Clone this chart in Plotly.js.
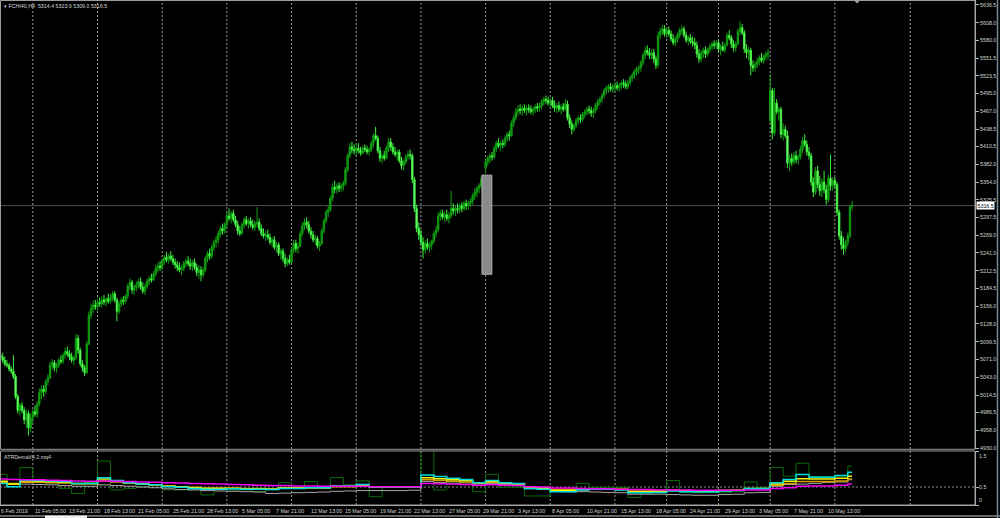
<!DOCTYPE html>
<html><head><meta charset="utf-8">
<script src="https://cdn.plot.ly/plotly-3.0.1.min.js"></script>
<style>html,body{margin:0;padding:0;background:#000;overflow:hidden}#chart{width:1000px;height:518px}</style>
</head><body><div id="chart"></div>
<script>
const symbolName = 'FCHI40,H4';
const indicatorName = 'ATRDemaV4.2.mq4';
const tradingDays = [
 '2019-02-06','2019-02-07','2019-02-08',
 '2019-02-11','2019-02-12','2019-02-13','2019-02-14','2019-02-15',
 '2019-02-18','2019-02-19','2019-02-20','2019-02-21','2019-02-22',
 '2019-02-25','2019-02-26','2019-02-27','2019-02-28','2019-03-01',
 '2019-03-04','2019-03-05','2019-03-06','2019-03-07','2019-03-08',
 '2019-03-11','2019-03-12','2019-03-13','2019-03-14','2019-03-15',
 '2019-03-18','2019-03-19','2019-03-20','2019-03-21','2019-03-22',
 '2019-03-25','2019-03-26','2019-03-27','2019-03-28','2019-03-29',
 '2019-04-01','2019-04-02','2019-04-03','2019-04-04','2019-04-05',
 '2019-04-08','2019-04-09','2019-04-10','2019-04-11','2019-04-12',
 '2019-04-15','2019-04-16','2019-04-17','2019-04-18',
 '2019-04-23','2019-04-24','2019-04-25','2019-04-26',
 '2019-04-29','2019-04-30','2019-05-02','2019-05-03',
 '2019-05-06','2019-05-07','2019-05-08','2019-05-09','2019-05-10',
 '2019-05-13','2019-05-14'];
const sessionHours = [1,5,9,13,17,21];
const firstBarHour = 13;

const open = [5078,5075,5070,
 5064,5062,5056,5052,5044,5012,
 4990,4998,4990,4975,4985,4962,
 4978,4988,4984,5000,5018,5024,
 5020,5036,5042,5062,5066,5058,
 5062,5070,5068,5078,5084,5080,
 5075,5070,5074,5105,5086,5064,
 5058,5050,5096,5142,5152,5158,
 5155,5162,5160,5166,5163,5168,
 5164,5170,5176,5166,5148,5160,
 5166,5164,5172,5188,5194,5182,
 5186,5190,5195,5186,5180,5188,
 5196,5200,5198,5208,5216,5220,
 5218,5228,5234,5230,5236,5232,
 5226,5222,5218,5214,5216,5224,
 5228,5224,5220,5226,5218,5210,
 5214,5206,5214,5232,5240,5236,
 5250,5258,5262,5272,5280,5276,
 5286,5300,5296,5304,5294,5286,
 5276,5272,5286,5294,5288,5292,
 5286,5282,5288,5290,5280,5272,
 5268,5270,5266,5258,5262,5250,
 5254,5240,5244,5232,5224,5230,
 5226,5246,5256,5248,5252,5272,
 5284,5290,5286,5276,5270,5262,
 5264,5252,5256,5276,5292,5306,
 5310,5328,5346,5342,5348,5344,
 5348,5352,5374,5396,5410,5406,
 5404,5408,5404,5400,5408,5406,
 5402,5406,5416,5428,5424,5404,
 5392,5396,5392,5408,5418,5410,
 5402,5398,5402,5388,5380,5386,
 5394,5398,5396,5358,5312,5280,
 5270,5258,5246,5256,5250,5254,
 5260,5272,5278,5300,5304,5298,
 5302,5296,5300,5312,5308,5312,
 5310,5316,5312,5320,5316,5320,
 5324,5332,5338,5344,5348,5358,
 5376,5386,5392,5396,5394,5408,
 5416,5412,5416,5414,5424,5430,
 5428,5448,5456,5466,5470,5468,
 5472,5468,5472,5470,5466,5470,
 5474,5472,5476,5482,5486,5484,
 5480,5484,5476,5472,5476,5470,
 5474,5470,5478,5456,5446,5438,
 5444,5452,5456,5454,5462,5466,
 5470,5468,5464,5468,5476,5482,
 5486,5492,5500,5504,5506,5502,
 5506,5508,5504,5508,5512,5510,
 5506,5512,5520,5524,5530,5534,
 5536,5544,5556,5564,5560,5556,
 5560,5550,5540,5588,5594,5598,
 5590,5596,5590,5582,5576,5582,
 5588,5596,5598,5588,5580,5584,
 5578,5576,5572,5558,5550,5560,
 5564,5558,5566,5570,5574,5572,
 5576,5566,5570,5564,5572,5588,
 5584,5574,5568,5574,5594,5600,
 5592,5566,5560,5564,5540,5536,
 5542,5546,5552,5548,5554,5558,
 5452,5500,5432,5480,5466,5470,
 5430,5438,5428,5384,5392,5386,
 5396,5390,5394,5406,5420,5414,
 5402,5396,5354,5338,5372,5350,
 5340,5354,5342,5326,5360,5348,
 5356,5350,5306,5268,5254,5248,
 5258,5268,5314.4];

const high = [5085,5082,5076,
 5070,5066,5060,5078,5048,5016,
 5002,5003,4995,4992,4990,4985,
 4992,4998,5005,5025,5030,5030,
 5040,5048,5068,5072,5070,5066,
 5074,5078,5082,5090,5092,5086,
 5082,5078,5112,5110,5090,5070,
 5062,5100,5148,5160,5165,5166,
 5168,5170,5172,5174,5170,5176,
 5175,5180,5180,5170,5165,5170,
 5172,5175,5192,5200,5198,5190,
 5196,5200,5202,5194,5192,5200,
 5204,5208,5212,5222,5226,5228,
 5232,5238,5242,5240,5244,5238,
 5232,5228,5226,5222,5228,5232,
 5236,5232,5230,5232,5224,5222,
 5220,5218,5236,5244,5248,5254,
 5262,5268,5276,5284,5288,5290,
 5306,5312,5308,5310,5300,5292,
 5284,5290,5298,5300,5296,5298,
 5294,5292,5314,5296,5286,5280,
 5276,5278,5272,5266,5268,5258,
 5258,5248,5248,5240,5234,5238,
 5250,5262,5262,5258,5276,5290,
 5296,5298,5292,5282,5276,5270,
 5268,5260,5280,5296,5310,5316,
 5332,5352,5356,5352,5354,5352,
 5356,5378,5400,5416,5418,5414,
 5414,5416,5410,5412,5414,5412,
 5410,5420,5432,5442,5428,5410,
 5400,5404,5412,5424,5424,5416,
 5410,5406,5406,5394,5390,5398,
 5404,5406,5400,5362,5318,5290,
 5278,5266,5262,5264,5258,5262,
 5276,5284,5306,5310,5310,5306,
 5310,5306,5340,5320,5316,5320,
 5320,5322,5324,5326,5324,5328,
 5336,5344,5348,5352,5364,5366,
 5392,5396,5400,5402,5412,5420,
 5424,5420,5422,5428,5434,5436,
 5452,5460,5472,5476,5478,5476,
 5478,5476,5478,5476,5474,5478,
 5480,5480,5486,5490,5492,5490,
 5488,5490,5484,5480,5482,5478,
 5480,5486,5484,5462,5452,5448,
 5456,5460,5462,5466,5470,5474,
 5476,5474,5472,5480,5486,5490,
 5496,5504,5508,5510,5512,5510,
 5514,5514,5512,5516,5518,5516,
 5516,5524,5528,5534,5538,5540,
 5548,5560,5570,5572,5568,5566,
 5566,5556,5594,5600,5604,5604,
 5600,5602,5596,5590,5586,5592,
 5600,5604,5602,5594,5588,5590,
 5586,5584,5578,5566,5564,5568,
 5570,5568,5574,5578,5580,5580,
 5582,5574,5578,5576,5592,5596,
 5588,5580,5578,5598,5610,5606,
 5596,5574,5570,5568,5548,5546,
 5552,5556,5560,5558,5562,5566,
 5526,5504,5504,5486,5474,5474,
 5448,5444,5436,5398,5400,5402,
 5404,5398,5412,5426,5430,5420,
 5410,5400,5362,5378,5380,5364,
 5360,5372,5350,5366,5398,5362,
 5362,5354,5310,5276,5266,5262,
 5274,5318,5323.9];

const low = [5068,5066,5060,
 5058,5052,5048,5040,5008,4985,
 4982,4985,4968,4962,4950,4955,
 4970,4980,4978,4996,5008,5012,
 5016,5030,5040,5055,5052,5050,
 5058,5064,5064,5072,5076,5070,
 5066,5062,5070,5080,5060,5052,
 5045,5048,5094,5136,5146,5150,
 5150,5155,5154,5158,5156,5160,
 5160,5164,5162,5132,5144,5155,
 5158,5160,5168,5182,5176,5174,
 5180,5184,5182,5176,5174,5184,
 5190,5194,5196,5204,5210,5212,
 5214,5222,5226,5224,5228,5222,
 5216,5212,5210,5206,5212,5218,
 5220,5214,5212,5214,5204,5200,
 5196,5202,5210,5226,5230,5232,
 5244,5250,5256,5266,5270,5272,
 5282,5292,5288,5290,5282,5270,
 5268,5270,5280,5284,5280,5282,
 5278,5276,5282,5276,5268,5264,
 5260,5262,5254,5250,5246,5242,
 5236,5230,5226,5218,5220,5222,
 5224,5240,5242,5240,5250,5268,
 5278,5280,5272,5264,5258,5254,
 5248,5244,5254,5272,5288,5298,
 5306,5324,5336,5336,5338,5338,
 5340,5348,5370,5392,5400,5398,
 5396,5400,5396,5398,5402,5398,
 5396,5402,5410,5420,5400,5386,
 5384,5388,5390,5402,5404,5398,
 5394,5388,5384,5374,5372,5382,
 5388,5390,5352,5306,5274,5262,
 5252,5232,5240,5246,5242,5246,
 5256,5266,5274,5292,5294,5290,
 5292,5288,5296,5302,5300,5304,
 5304,5306,5308,5310,5310,5314,
 5318,5326,5330,5336,5344,5350,
 5368,5380,5384,5388,5390,5402,
 5408,5404,5408,5410,5418,5420,
 5426,5442,5452,5460,5462,5460,
 5464,5460,5464,5462,5460,5464,
 5466,5466,5470,5476,5478,5476,
 5474,5472,5466,5464,5466,5462,
 5466,5468,5452,5440,5430,5434,
 5440,5446,5448,5450,5456,5460,
 5462,5458,5456,5464,5470,5476,
 5480,5488,5494,5496,5498,5496,
 5498,5500,5498,5502,5504,5502,
 5502,5508,5514,5518,5524,5526,
 5530,5540,5550,5556,5550,5550,
 5544,5534,5536,5582,5588,5586,
 5584,5586,5578,5572,5570,5576,
 5584,5590,5584,5576,5572,5574,
 5570,5566,5552,5544,5546,5552,
 5552,5554,5560,5564,5566,5566,
 5560,5556,5562,5560,5570,5580,
 5568,5562,5562,5572,5588,5588,
 5560,5552,5548,5524,5530,5530,
 5536,5540,5544,5542,5548,5550,
 5448,5422,5428,5462,5452,5424,
 5420,5424,5376,5372,5380,5382,
 5384,5382,5390,5400,5410,5396,
 5390,5348,5330,5334,5344,5332,
 5330,5336,5318,5322,5340,5340,
 5344,5300,5262,5246,5238,5242,
 5252,5264,5309.0];

const close = [5075,5070,5064,
 5062,5056,5052,5044,5012,4990,
 4998,4990,4975,4985,4962,4978,
 4988,4984,5000,5018,5024,5020,
 5036,5042,5062,5066,5058,5062,
 5070,5068,5078,5084,5080,5075,
 5070,5074,5105,5086,5064,5058,
 5050,5096,5142,5152,5158,5155,
 5162,5160,5166,5163,5168,5164,
 5170,5176,5166,5148,5160,5166,
 5164,5172,5188,5194,5182,5186,
 5190,5195,5186,5180,5188,5196,
 5200,5198,5208,5216,5220,5218,
 5228,5234,5230,5236,5232,5226,
 5222,5218,5214,5216,5224,5228,
 5224,5220,5226,5218,5210,5214,
 5206,5214,5232,5240,5236,5250,
 5258,5262,5272,5280,5276,5286,
 5300,5296,5304,5294,5286,5276,
 5272,5286,5294,5288,5292,5286,
 5282,5288,5290,5280,5272,5268,
 5270,5266,5258,5262,5250,5254,
 5240,5244,5232,5224,5230,5226,
 5246,5256,5248,5252,5272,5284,
 5290,5286,5276,5270,5262,5264,
 5252,5256,5276,5292,5306,5310,
 5328,5346,5342,5348,5344,5348,
 5352,5374,5396,5410,5406,5404,
 5408,5404,5400,5408,5406,5402,
 5406,5416,5428,5424,5404,5392,
 5396,5392,5408,5418,5410,5402,
 5398,5402,5388,5380,5386,5394,
 5398,5396,5358,5312,5280,5270,
 5258,5246,5256,5250,5254,5260,
 5272,5278,5300,5304,5298,5302,
 5296,5300,5312,5308,5312,5310,
 5316,5312,5320,5316,5320,5324,
 5332,5338,5344,5348,5358,5362,
 5386,5392,5396,5394,5408,5416,
 5412,5416,5414,5424,5430,5428,
 5448,5456,5466,5470,5468,5472,
 5468,5472,5470,5466,5470,5474,
 5472,5476,5482,5486,5484,5480,
 5484,5476,5472,5476,5470,5474,
 5470,5478,5456,5446,5438,5444,
 5452,5456,5454,5462,5466,5470,
 5468,5464,5468,5476,5482,5486,
 5492,5500,5504,5506,5502,5506,
 5508,5504,5508,5512,5510,5506,
 5512,5520,5524,5530,5534,5536,
 5544,5556,5564,5560,5556,5560,
 5550,5540,5588,5594,5598,5590,
 5596,5590,5582,5576,5582,5588,
 5596,5598,5588,5580,5584,5578,
 5576,5572,5558,5550,5560,5564,
 5558,5566,5570,5574,5572,5576,
 5566,5570,5564,5572,5588,5584,
 5574,5568,5574,5594,5600,5592,
 5566,5560,5564,5540,5536,5542,
 5546,5552,5548,5554,5558,5560,
 5500,5432,5480,5466,5470,5430,
 5438,5428,5384,5392,5386,5396,
 5390,5394,5406,5420,5414,5402,
 5396,5354,5338,5372,5350,5340,
 5354,5342,5326,5360,5348,5356,
 5350,5306,5268,5254,5248,5258,
 5268,5314.4,5316.5];

// ATR indicator values, one per trading day
const atrGreen = [0.85,0.51,1.04, 0.62,0.62,0.46,0.32,0.62, 1.22,0.42,0.46,0.51,0.56,
 0.42,0.42,0.42,0.28,0.44, 0.42,0.42,0.37,0.42,0.62, 0.46,0.65,0.51,0.76,0.56,
 0.67,0.23,0.51,0.51,0.51, 1.70,0.42,0.62,0.62,0.37, 0.85,0.49,0.49,0.25,0.25,
 0.42,0.42,0.60,0.49,0.49, 0.49,0.21,0.42,0.42, 0.68,0.35,0.34,0.35,
 0.34,0.37,0.64,0.48, 1.04,0.80,1.16,0.79,0.79, 0.80,1.08];
const atrCyan = [0.60,0.51,0.69, 0.68,0.67,0.65,0.60,0.60, 0.76,0.68,0.62,0.58,0.56,
 0.51,0.49,0.46,0.44,0.44, 0.45,0.44,0.44,0.43,0.46, 0.46,0.48,0.48,0.53,0.53,
 0.57,0.51,0.51,0.51,0.51, 0.83,0.79,0.74,0.71,0.62, 0.68,0.62,0.60,0.46,0.44,
 0.37,0.37,0.42,0.44,0.44, 0.42,0.34,0.34,0.35, 0.39,0.37,0.36,0.36,
 0.39,0.40,0.46,0.46, 0.62,0.71,0.85,0.77,0.77, 0.82,0.91];
const atrYellow = [0.66,0.58,0.67, 0.66,0.65,0.63,0.60,0.60, 0.72,0.66,0.62,0.58,0.56,
 0.52,0.50,0.48,0.46,0.46, 0.46,0.45,0.45,0.44,0.47, 0.47,0.48,0.48,0.52,0.52,
 0.55,0.51,0.51,0.51,0.51, 0.76,0.73,0.70,0.68,0.62, 0.66,0.61,0.59,0.48,0.46,
 0.40,0.40,0.43,0.44,0.44, 0.43,0.37,0.37,0.38, 0.40,0.39,0.38,0.38,
 0.40,0.41,0.46,0.46, 0.58,0.66,0.73,0.72,0.72, 0.74,0.80];
const atrOrange = [0.63,0.60,0.63, 0.63,0.62,0.61,0.59,0.59, 0.67,0.64,0.61,0.58,0.56,
 0.53,0.51,0.49,0.47,0.47, 0.47,0.46,0.46,0.45,0.47, 0.47,0.48,0.48,0.51,0.51,
 0.53,0.51,0.51,0.51,0.51, 0.70,0.68,0.66,0.64,0.60, 0.63,0.60,0.58,0.50,0.48,
 0.43,0.43,0.44,0.44,0.44, 0.44,0.39,0.39,0.40, 0.41,0.40,0.39,0.39,
 0.40,0.41,0.45,0.45, 0.55,0.60,0.65,0.65,0.65, 0.67,0.72];
const atrGray = [0.60,0.57,0.58, 0.57,0.56,0.54,0.52,0.52, 0.56,0.54,0.52,0.50,0.48,
 0.45,0.43,0.42,0.40,0.39, 0.38,0.37,0.36,0.32,0.33, 0.34,0.35,0.36,0.38,0.39,
 0.40,0.40,0.40,0.40,0.41, 0.65,0.62,0.60,0.58,0.55, 0.60,0.57,0.55,0.45,0.43,
 0.38,0.37,0.37,0.36,0.35, 0.34,0.30,0.30,0.30, 0.29,0.28,0.27,0.27,
 0.29,0.30,0.34,0.35, 0.52,0.57,0.58,0.60,0.63, 0.64,0.70];
const atrMagenta = [0.72,0.71,0.70, 0.70,0.69,0.68,0.67,0.66, 0.67,0.66,0.65,0.64,0.63,
 0.62,0.61,0.60,0.59,0.58, 0.57,0.56,0.55,0.54,0.54, 0.53,0.53,0.52,0.52,0.52,
 0.52,0.51,0.51,0.51,0.51, 0.60,0.59,0.58,0.57,0.55, 0.56,0.55,0.54,0.51,0.50,
 0.47,0.47,0.46,0.45,0.45, 0.44,0.43,0.43,0.42, 0.42,0.42,0.41,0.41,
 0.41,0.41,0.42,0.42, 0.46,0.48,0.52,0.53,0.53, 0.55,0.58];
const indicatorLevels = [0, 0.5, 1.5];
const indicatorRange = [0, 1.5];

const priceTicks = [4930.0,4958.0,4986.5,5014.5,5043.0,5071.0,5099.5,5128.0,5156.0,5184.5,
 5212.5,5241.0,5269.0,5297.5,5325.5,5354.0,5382.0,5410.5,5438.5,5467.0,5495.0,5523.5,
 5551.5,5580.0,5608.0,5636.5];
const priceRange = [4928.0, 5644.2];
const timeLabels = ['6 Feb 2019','11 Feb 05:00','13 Feb 21:00','18 Feb 13:00','21 Feb 05:00',
 '25 Feb 21:00','28 Feb 13:00','5 Mar 05:00','7 Mar 21:00','12 Mar 13:00','15 Mar 05:00',
 '19 Mar 21:00','22 Mar 13:00','27 Mar 05:00','29 Mar 21:00','3 Apr 13:00','8 Apr 05:00',
 '10 Apr 21:00','15 Apr 13:00','18 Apr 05:00','24 Apr 21:00','29 Apr 13:00','3 May 05:00',
 '7 May 21:00','10 May 13:00'];
const futureGridBars = [422];
const visibleBars = [-0.23, 452.0];
// grey rectangle object drawn on the chart (bar positions / prices)
const boxBars = [223.3, 227.9];
const boxPrices = [5207, 5365];

// ---------- build bar time axis ----------
const MON = ['Jan','Feb','Mar','Apr','May','Jun','Jul','Aug','Sep','Oct','Nov','Dec'];
const N = close.length;
const barLabel = [], barDateYear = [], dayFirstBar = [], dayWeekday = [];
outer:
for (let d = 0; d < tradingDays.length; d++) {
  const [Y, M, D] = tradingDays[d].split('-').map(Number);
  dayWeekday.push(new Date(Date.UTC(Y, M - 1, D)).getUTCDay());
  for (const h of sessionHours) {
    if (d === 0 && h < firstBarHour) continue;
    if (barLabel.length >= N) break outer;
    if (dayFirstBar.length === d) dayFirstBar.push(barLabel.length);
    barLabel.push(D + ' ' + MON[M - 1] + ' ' + String(h).padStart(2, '0') + ':00');
    barDateYear.push(D + ' ' + MON[M - 1] + ' ' + Y);
  }
}
const idx = barLabel.map((_, i) => i);
const gridBars = [];
for (let d = 1; d < dayFirstBar.length; d++) if (dayWeekday[d] < dayWeekday[d - 1]) gridBars.push(dayFirstBar[d]);

// ---------- geometry of the two panes ----------
const W = 1000, H = 518, ML = 0, MR = 25, MT = 0, MB = 13;
const PW = W - ML - MR, PH = H - MT - MB;
const px = x => (x - ML) / PW, py = y => (PH + MT - y) / PH;
const mainDomain = [py(449.3), 1];
const indDomain = [0, py(451)];

const txt = '#d6d6d6', axisCol = '#b4b4b4';
const F = {family: 'Liberation Sans, Arial, sans-serif', size: 5.3, color: txt};

function stepXY(vals) {
  return {x: dayFirstBar.slice(0, vals.length).concat([N - 1]), y: vals.concat([vals[vals.length - 1]])};
}
const ind = [
  {v: atrGreen, c: '#0b6b0b', w: 1},
  {v: atrGray, c: '#a8a8a8', w: 1},
  {v: atrOrange, c: '#d7a000', w: 1.5},
  {v: atrYellow, c: '#f5f500', w: 1.5},
  {v: atrCyan, c: '#00dcdc', w: 1.5},
  {v: atrMagenta, c: '#f000f0', w: 1.5}
];

const traces = [{
  type: 'candlestick', x: idx, open: open, high: high, low: low, close: close,
  xaxis: 'x', yaxis: 'y', whiskerwidth: 0, hoverinfo: 'skip',
  increasing: {line: {color: '#10a010', width: 1}, fillcolor: '#0a8c0a'},
  decreasing: {line: {color: '#3cf03c', width: 1}, fillcolor: '#a0ffa0'}
}];
ind.forEach(s => {
  const xy = stepXY(s.v);
  traces.push({type: 'scatter', mode: 'lines', x: xy.x, y: xy.y, xaxis: 'x', yaxis: 'y2',
    line: {color: s.c, width: s.w, shape: 'hv'}, hoverinfo: 'skip'});
});

const lastClose = close[N - 1];
const shapes = [];
gridBars.concat(futureGridBars).forEach(g => shapes.push({type: 'line', xref: 'x', yref: 'paper', x0: g, x1: g, y0: 0, y1: 1,
  line: {color: '#9a9a9a', width: 1, dash: '2px,2px'}, layer: 'below'}));
shapes.push({type: 'line', xref: 'paper', yref: 'y2', x0: 0, x1: 1, y0: indicatorLevels[1], y1: indicatorLevels[1],
  line: {color: '#8a8a8a', width: 1, dash: '2px,2px'}, layer: 'below'});
shapes.push({type: 'line', xref: 'paper', yref: 'y', x0: 0, x1: 1, y0: lastClose, y1: lastClose,
  line: {color: '#4b5059', width: 1}, layer: 'below'});
shapes.push({type: 'rect', xref: 'x', yref: 'y', x0: boxBars[0], x1: boxBars[1], y0: boxPrices[0], y1: boxPrices[1],
  fillcolor: '#8a8a8a', line: {color: '#b0b0b0', width: 1}, layer: 'above'});
// pane borders
shapes.push({type: 'rect', xref: 'paper', yref: 'paper', x0: px(0.5), x1: 1, y0: mainDomain[0], y1: py(0.5),
  line: {color: '#9c9c9c', width: 1}, fillcolor: 'rgba(0,0,0,0)', layer: 'above'});
shapes.push({type: 'rect', xref: 'paper', yref: 'paper', x0: px(0.5), x1: 1, y0: 0, y1: indDomain[1],
  line: {color: '#9c9c9c', width: 1}, fillcolor: 'rgba(0,0,0,0)', layer: 'above'});
// window decorations
shapes.push({type: 'line', xref: 'paper', yref: 'paper', x0: px(0), x1: px(1000), y0: py(516), y1: py(516), line: {color: '#c8c8c8', width: 1}});
shapes.push({type: 'rect', xref: 'paper', yref: 'paper', x0: px(45), x1: px(87), y0: py(518), y1: py(515.5), line: {width: 0}, fillcolor: '#f0f0f0'});
shapes.push({type: 'line', xref: 'paper', yref: 'paper', x0: px(997.5), x1: px(997.5), y0: py(518), y1: py(0), line: {color: '#6f8c96', width: 1.5}});
shapes.push({type: 'path', xref: 'paper', yref: 'paper',
  path: `M ${px(853.5)} ${py(0)} L ${px(860.5)} ${py(0)} L ${px(857)} ${py(3.5)} Z`, fillcolor: '#a0a0a0', line: {width: 0}});

const annotations = [];
annotations.push({xref: 'paper', yref: 'paper', x: px(2), y: 1, xanchor: 'left', yanchor: 'top', yshift: -1, showarrow: false,
  text: '\u25BE ' + symbolName + '  ' + [open[N-1], high[N-1], low[N-1], close[N-1]].map(v => v.toFixed(1)).join(' '), font: F});
annotations.push({xref: 'paper', yref: 'paper', x: px(2), y: indDomain[1], xanchor: 'left', yanchor: 'top', yshift: -1, showarrow: false,
  text: indicatorName, font: F});
timeLabels.forEach(lab => {
  let i = barLabel.indexOf(lab);
  if (i < 0) i = barDateYear.indexOf(lab);
  if (i < 0) return;
  annotations.push({xref: 'x', yref: 'paper', x: i, y: 0, xanchor: 'left', yanchor: 'top', yshift: -1, xshift: -2,
    showarrow: false, text: lab, font: F});
});
indicatorLevels.forEach((lv, k) => {
  const anchor = lv === indicatorRange[1] ? 'top' : (lv === indicatorRange[0] ? 'bottom' : 'middle');
  annotations.push({xref: 'paper', yref: 'y2', x: 1, y: lv, xanchor: 'left', yanchor: anchor, xshift: 2, showarrow: false,
    text: String(lv), font: F});
});
annotations.push({xref: 'paper', yref: 'y', x: 1, y: lastClose, xanchor: 'left', yanchor: 'middle', xshift: 1, showarrow: false,
  text: lastClose.toFixed(1), font: {family: F.family, size: F.size, color: '#000'}, bgcolor: '#ffffff', borderpad: 0.5});

const layout = {
  width: W, height: H, margin: {l: ML, r: MR, t: MT, b: MB, pad: 0},
  paper_bgcolor: '#000', plot_bgcolor: '#000', showlegend: false, boxgap: 0.1,
  font: F,
  xaxis: {domain: [0, 1], anchor: 'y2', range: visibleBars, showgrid: false, zeroline: false, showticklabels: false,
    ticks: '', showline: true, linecolor: axisCol, linewidth: 1, rangeslider: {visible: false}, fixedrange: true},
  yaxis: {domain: mainDomain, anchor: 'x', side: 'right', range: priceRange, tickvals: priceTicks,
    ticktext: priceTicks.map(v => v.toFixed(1)), ticks: 'outside', ticklen: 3, tickcolor: axisCol, tickwidth: 1,
    showline: true, linecolor: axisCol, linewidth: 1, showgrid: false, zeroline: false, tickfont: F, fixedrange: true},
  yaxis2: {domain: indDomain, anchor: 'x', side: 'right', range: indicatorRange, tickvals: indicatorLevels,
    ticks: 'outside', ticklen: 3, tickcolor: axisCol, showticklabels: false,
    showline: true, linecolor: axisCol, linewidth: 1, showgrid: false, zeroline: false, fixedrange: true},
  shapes: shapes, annotations: annotations
};
Plotly.newPlot('chart', traces, layout, {staticPlot: true, displayModeBar: false});
</script></body></html>
